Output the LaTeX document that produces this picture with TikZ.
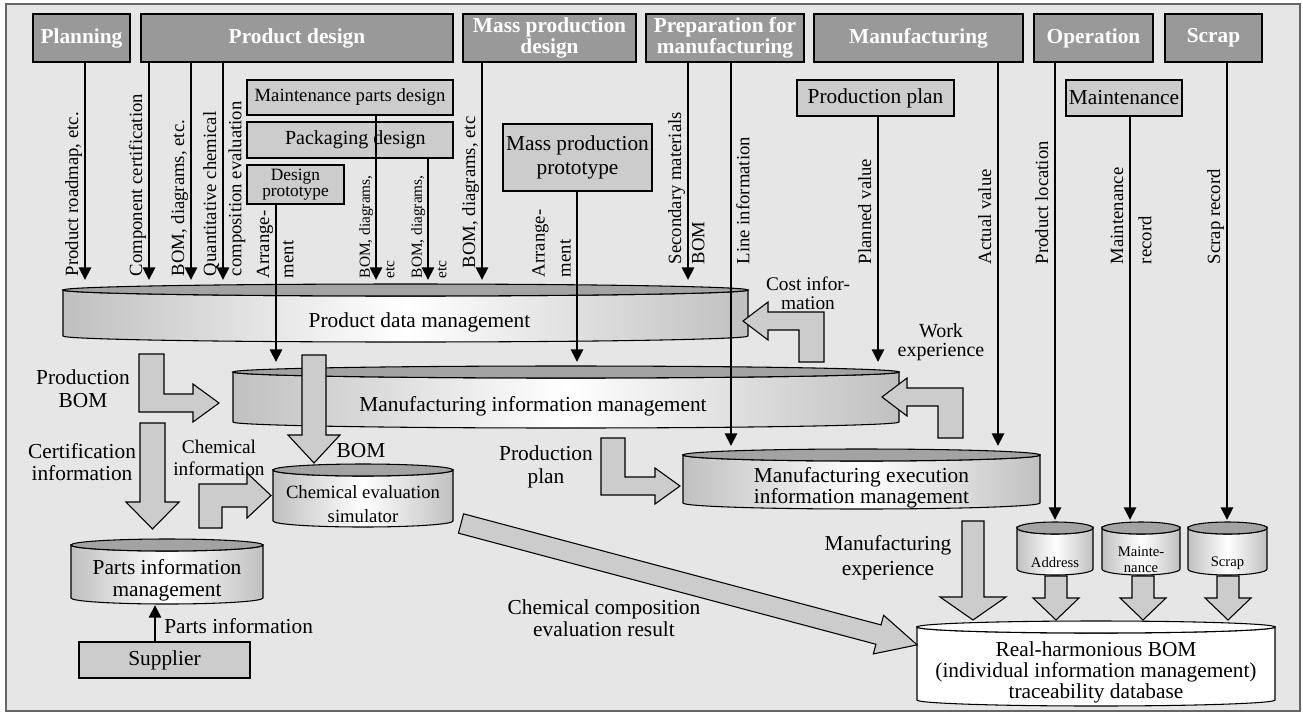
\documentclass[tikz,border=0pt]{standalone}
\usepackage{fontspec}
\setmainfont{Liberation Serif}
\usepackage{tikz}
\usetikzlibrary{arrows.meta,positioning}
\definecolor{panelgray}{RGB}{230,230,230}
\definecolor{stagegray}{RGB}{153,153,153}
\definecolor{taskgray}{RGB}{204,204,204}
\definecolor{lidgray}{RGB}{163,163,163}
\definecolor{drumgray}{RGB}{192,192,192}

\tikzset{
  boxsize/.style 2 args={minimum width={#1*0.75pt}, minimum height={#2*0.75pt}},
  stagebox/.style={draw=black, line width=0.8pt, fill=stagegray, text=white,
    font=\fontsize{16}{14}\selectfont\bfseries, align=center, inner sep=0pt},
  taskbox/.style={draw=black, line width=0.8pt, fill=taskgray,
    font=\fontsize{16}{18.5}\selectfont, align=center, inner sep=0pt},
  drumbody/.style={draw=black, line width=0.8pt,
    left color=drumgray, right color=drumgray, middle color=white},
  drumlid/.style={draw=black, line width=0.8pt, fill=lidgray},
  whitedrum/.style={left color=white, right color=white, middle color=white},
  drumtext/.style={font=\fontsize{16}{16}\selectfont, align=center, inner sep=0pt},
  flowarrow/.style={line width=2.2pt, -{Triangle[length=9.5pt,width=9pt]}},
  fatarrow/.style={draw=black, line width=0.8pt, fill=taskgray, line join=miter},
  lab/.style={font=\fontsize{16}{17}\selectfont, align=center, inner sep=0pt},
  vlab/.style={rotate=90, anchor=south west, inner sep=0.5pt,
    text height=10pt, text depth=2.5pt, font=\fontsize{14}{16}\selectfont},
  vlabr/.style={vlab, anchor=north west},
  vsmall/.style={font=\fontsize{11.5}{13}\selectfont, text height=8.5pt, text depth=2pt},
}

% database drum: [extra style]{left x}{right x}{lid y}{bottom y}{name}
\newcommand{\dbdrum}[6][]{%
  \draw[drumbody,#1] (#2,#4) -- (#2,#5)
    arc[start angle=180,end angle=0,x radius={(#3-#2)/2},y radius=6]
    -- (#3,#4)
    arc[start angle=0,end angle=180,x radius={(#3-#2)/2},y radius=6] -- cycle;
  \draw[drumlid,#1] ({(#2+#3)/2},#4) ellipse[x radius={(#3-#2)/2},y radius=6];
  \coordinate (#6) at ({(#2+#3)/2},{(#4+#5)/2+9});}

\begin{document}
\begin{tikzpicture}[x=0.75pt, y=-0.75pt]
  \useasboundingbox (0,0) rectangle (1303,715);
  % Panel
  \draw[draw=black!60, line width=1pt, fill=panelgray] (6,4) rectangle (1300,711);

  % Databases
  \dbdrum{63}{748}{290}{336}{pdm}
  \dbdrum{233}{899}{372}{422}{mim}
  \dbdrum{273}{453}{470}{521}{ces}
  \dbdrum{71}{263}{545}{598}{pim}
  \dbdrum{683}{1040}{455}{503}{meim}
  \dbdrum{1017}{1093}{528}{569}{addr}
  \dbdrum{1102}{1180}{528}{569}{mntc}
  \dbdrum{1188}{1267}{528}{569}{scrp}
  \dbdrum[whitedrum]{917}{1275}{627}{700}{rhbom}

  \node[drumtext] (pdmname) at ([xshift=10.5pt]pdm) {Product data management};
  \node[drumtext] (mimname) at ([xshift=-24.75pt]mim) {Manufacturing information management};
  \node[drumtext, font=\fontsize{14}{18}\selectfont] (cesname) at (ces) {Chemical evaluation\\simulator};
  \node[drumtext, font=\fontsize{16}{16.5}\selectfont] (pimname) at (pim) {Parts information\\management};
  \node[drumtext] (meimname) at (meim) {Manufacturing execution\\information management};
  \node[drumtext, font=\fontsize{16}{15.5}\selectfont] (rhbomname) at (rhbom)
    {Real-harmonious BOM\\(individual information management)\\traceability database};
  \node[drumtext, font=\fontsize{11}{12}\selectfont] (addrname) at ([yshift=-4pt]addr) {Address};
  \node[drumtext, font=\fontsize{11}{12}\selectfont] (mntcname) at ([yshift=-2pt]mntc) {Mainte-\\nance};
  \node[drumtext, font=\fontsize{11}{12}\selectfont] (scrpname) at ([yshift=-4pt]scrp) {Scrap};

  % Wide arrows
  \draw[fatarrow] (139,354) -- (164,354) -- (164,394) -- (193,394) -- (193,384)
    -- (219,403) -- (193,422) -- (193,412) -- (139,412) -- cycle;
  \draw[fatarrow] (140,423) -- (165,423) -- (165,502) -- (179,502) -- (152.5,529)
    -- (126,502) -- (140,502) -- cycle;
  \draw[fatarrow] (199,528) -- (199,484) -- (247,484) -- (247,473) -- (271,495.5)
    -- (247,518) -- (247,507) -- (222,507) -- (222,528) -- cycle;
  \draw[fatarrow] (302,355) -- (326,355) -- (326,435) -- (340,435) -- (314,463)
    -- (288,435) -- (302,435) -- cycle;
  \draw[fatarrow] (799,362) -- (799,330) -- (768,330) -- (768,340) -- (743,321)
    -- (768,302) -- (768,312) -- (824,312) -- (824,362) -- cycle;
  \draw[fatarrow] (938,438) -- (938,406) -- (907,406) -- (907,416) -- (882,397)
    -- (907,378) -- (907,388) -- (963,388) -- (963,438) -- cycle;
  \draw[fatarrow] (601,438) -- (625,438) -- (625,477) -- (655,477) -- (655,468)
    -- (680,486) -- (655,504) -- (655,495) -- (601,495) -- cycle;
  \draw[fatarrow] (962,521) -- (984,521) -- (984,597) -- (1006,597) -- (973,620)
    -- (940,597) -- (962,597) -- cycle;
  \foreach \x in {1056,1143,1228}
    \draw[fatarrow] (\x-11,576) -- (\x+11,576) -- (\x+11,598) -- (\x+23,598)
      -- (\x,620) -- (\x-23,598) -- (\x-11,598) -- cycle;
  \begin{scope}[shift={(461,523.5)}, rotate=-14.9]
    \draw[fatarrow] (0,-10) -- (432,-10) -- (432,-20) -- (472,0) -- (432,20)
      -- (432,10) -- (0,10) -- cycle;
  \end{scope}

  % Life-cycle stages
  \node[stagebox, boxsize={97}{48}] (plan) at (81.5,38) {Planning};
  \node[stagebox, boxsize={312}{48}] (proddesign) at (297,38) {Product design};
  \node[stagebox, boxsize={173}{48}] (massdesign) at (549.5,38) {Mass production\\design};
  \node[stagebox, boxsize={158}{48}] (prepman) at (725,38) {Preparation for\\manufacturing};
  \node[stagebox, boxsize={209}{48}] (manuf) at (918.5,38) {Manufacturing};
  \node[stagebox, boxsize={119}{48}] (oper) at (1093.5,38) {Operation};
  \node[stagebox, boxsize={97}{48}] (scrap) at (1213.5,38) {Scrap};

  % Sub tasks
  \node[taskbox, boxsize={206}{35}, font=\fontsize{14}{16}\selectfont] (maintparts) at (350,97.5) {Maintenance parts design};
  \node[taskbox, boxsize={206}{36}, font=\fontsize{15}{16}\selectfont] (packdesign) at (350,140) {\hspace*{8pt}Packaging design};
  \node[taskbox, boxsize={97}{39}, font=\fontsize{13}{12.5}\selectfont] (designproto) at (295.5,184.5) {Design\\prototype};
  \node[taskbox, boxsize={149}{67}] (massproto) at (577.5,157.5) {Mass production\\prototype};
  \node[taskbox, boxsize={157}{36}] (prodplan) at (875.5,98) {Production plan};
  \node[taskbox, boxsize={116}{36}] (maint) at (1124,98) {Maintenance};
  \node[taskbox, boxsize={171}{36}] (supplier) at (164.5,660) {Supplier};

  % Arrow ends
  \coordinate (pdmlid) at (0,280);
  \coordinate (mimlid) at (0,362);
  \coordinate (meimlid) at (0,446);
  \coordinate (smalllid) at (0,520);
  \coordinate (pimbase) at (0,605);

  % Information flows
  \foreach \x/\src in {85/plan,149/proddesign,191/proddesign,223/proddesign,
      376/maintparts,428/packdesign,482/massdesign,688/prepman}
    \draw[flowarrow] (\src.south -| \x,0) -- (\x,0 |- pdmlid);
  \foreach \x/\src in {276/designproto,577/massproto,878/prodplan}
    \draw[flowarrow] (\src.south -| \x,0) -- (\x,0 |- mimlid);
  \foreach \x/\src in {731/prepman,998/manuf}
    \draw[flowarrow] (\src.south -| \x,0) -- (\x,0 |- meimlid);
  \foreach \x/\src in {1055/oper,1130/maint,1227/scrap}
    \draw[flowarrow] (\src.south -| \x,0) -- (\x,0 |- smalllid);
  \draw[flowarrow] (supplier.north -| 155,0) -- (155,0 |- pimbase);

  % Flow labels
  \node[vlab] (lroad) at (82.5,277) {Product roadmap, etc.};
  \node[vlab] (lcomp) at (146.5,277) {Component certification};
  \node[vlab] (lbomdia) at (188.5,277) {BOM, diagrams, etc.};
  \node[vlab] (lquant) at (220.5,277) {Quantitative chemical};
  \node[vlabr] (lcompo) at (227,277) {composition evaluation};
  \node[vlab] (larr1) at (273.5,279) {Arrange-};
  \node[vlabr] (lment1) at (279,279) {ment};
  \node[vlab, vsmall] (lbd1) at (373.5,279) {BOM, diagrams,};
  \node[vlabr, vsmall] (letc1) at (382,279) {etc};
  \node[vlab, vsmall] (lbd2) at (425.5,279) {BOM, diagrams,};
  \node[vlabr, vsmall] (letc2) at (434,279) {etc};
  \node[vlab] (lbomdia2) at (479.5,269) {BOM, diagrams, etc};
  \node[vlab] (larr2) at (549,278) {Arrange-};
  \node[vlab] (lment2) at (575,278) {ment};
  \node[vlab] (lsecmat) at (685.5,265) {Secondary materials};
  \node[vlabr] (lsecbom) at (690,265) {BOM};
  \node[vlabr] (lline) at (735,265) {Line information};
  \node[vlab] (lplanned) at (875.5,265) {Planned value};
  \node[vlab] (lactual) at (995.5,265) {Actual value};
  \node[vlab] (lloc) at (1052.5,265) {Product location};
  \node[vlab] (lmaint) at (1127.5,265) {Maintenance};
  \node[vlabr] (lrecord) at (1137,265) {record};
  \node[vlab] (lscrap) at (1224.5,265) {Scrap record};

  \node[lab] (lprodbom) at (83,389) {Production\\BOM};
  \node[lab] (lcert) at (82,462) {Certification\\information};
  \node[lab, font=\fontsize{14.5}{17}\selectfont] (lchem) at (219,458) {Chemical\\information};
  \node[lab] (lbom) at (361,451) {BOM};
  \node[lab, font=\fontsize{14.5}{14}\selectfont] (lcost) at (808,293) {Cost infor-\\mation};
  \node[lab, font=\fontsize{15}{14.5}\selectfont] (lwork) at (941,342) {Work\\experience};
  \node[lab] (lplantext) at (546,467) {Production\\plan};
  \node[lab, font=\fontsize{16}{18.5}\selectfont] (lmanexp) at (888,558) {Manufacturing\\experience};
  \node[lab, font=\fontsize{16}{16.5}\selectfont] (lchemres) at (604,618) {Chemical composition\\evaluation result};
  \node[lab, anchor=west] (lparts) at (164,626) {Parts information};
\end{tikzpicture}
\end{document}
